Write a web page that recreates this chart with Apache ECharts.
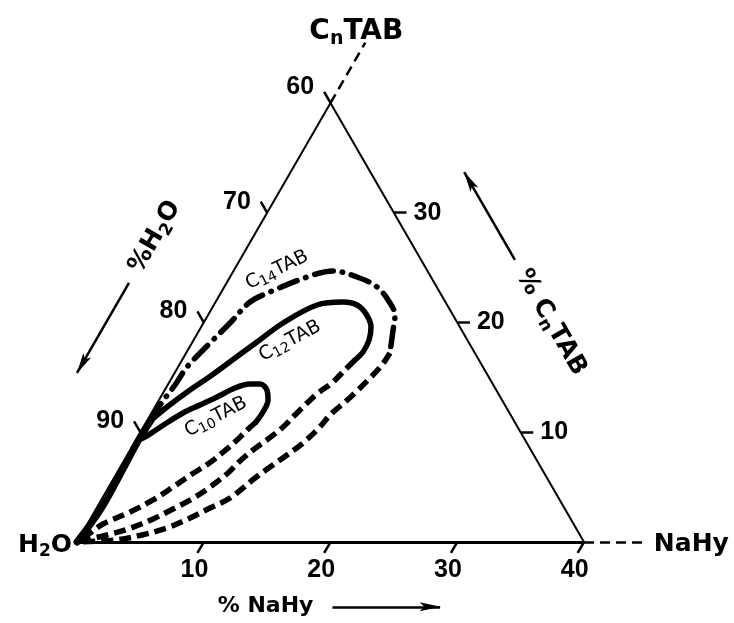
<!DOCTYPE html>
<html>
<head>
<meta charset="utf-8">
<title>CnTAB / NaHy / H2O phase diagram</title>
<script src="https://cdn.jsdelivr.net/npm/echarts@6/dist/echarts.min.js"></script>
<style>
  html, body { margin: 0; padding: 0; background: #fff; }
  #chart { width: 734px; height: 623px; }
</style>
</head>
<body>
<div id="chart"></div>
<script>
// Compositions are [NaHy %, CnTAB %]; H2O is the remainder to 100 %.

// Boundary shared by all three surfactants close to the water corner
const trunk = [[0, 0], [0.38, 2.92], [0.32, 6.29], [0.22, 9.29], [0.30, 11.11]];

// C10TAB region
const c10Solid = [[0.22, 9.29], [0.69, 9.66], [1.57, 10.75], [2.49, 11.75], [3.46, 12.48], [4.44, 13.21],
  [5.45, 14.03], [6.45, 14.39], [7.25, 14.39], [8.06, 13.85], [8.60, 12.94], [8.75, 11.84], [8.66, 10.93]];
const c10Dashed = [[8.66, 10.93], [8.24, 10.02], [7.98, 9.29], [7.39, 8.11], [6.78, 7.11], [5.98, 6.19],
  [5.07, 5.01], [4.08, 3.83], [2.82, 2.73], [1.23, 1.64], [0.62, 0.82], [0, 0]];

// C12TAB region
const c12Solid = [[0.30, 11.11], [0.95, 12.30], [1.99, 13.85], [3.05, 15.21], [4.09, 16.76], [5.09, 18.22],
  [6.28, 19.95], [8.14, 21.59], [10.06, 21.86], [11.30, 21.59], [12.42, 20.77], [13.40, 19.59],
  [13.84, 18.40], [13.91, 17.31], [13.64, 16.58]];
const c12Dashed = [[13.64, 16.58], [13.24, 15.49], [12.87, 14.49], [12.23, 13.57], [11.82, 12.66],
  [11.45, 11.66], [10.98, 10.39], [10.38, 9.38], [9.70, 8.38], [9.17, 7.38], [8.77, 6.29], [7.99, 5.01],
  [7.11, 3.92], [6.07, 3.01], [4.95, 2.10], [3.43, 1.18], [2.05, 0.64], [0.89, 0.27], [0, 0]];

// C14TAB region
const c14DashDot = [[0.30, 11.11], [0.31, 12.48], [0.58, 14.30], [0.71, 15.94], [1.43, 18.13], [2.10, 19.95],
  [2.72, 21.86], [3.84, 22.78], [6.27, 24.23], [7.85, 24.69], [10.02, 24.14], [12.06, 23.23],
  [13.81, 21.77], [14.75, 20.68], [15.28, 19.31], [16.08, 17.22]];
const c14Dashed = [[16.08, 17.22], [16.00, 16.12], [15.65, 14.94], [15.24, 13.85], [14.77, 12.75],
  [14.25, 11.75], [13.83, 10.20], [13.32, 9.02], [12.61, 7.93], [11.81, 6.83], [11.13, 5.83],
  [10.07, 4.01], [8.94, 3.10], [7.71, 2.10], [6.46, 1.28], [4.81, 0.64], [2.91, 0.18], [0, 0]];

// Tick values on the three sides
const naHyTicks = [10, 20, 30, 40];
const h2oTicks = [60, 70, 80, 90];
const cnTabTicks = [10, 20, 30];

// Region labels: name, subscript, anchor composition, text angle
const regionNames = ['C10TAB', 'C12TAB', 'C14TAB'];
const regionSubs = ['10', '12', '14'];
const regionAnchors = [[5.27, 11.39], [7.65, 18.31], [3.39, 24.78]];
const regionAngles = [27, 28, 26];

// Axis-title arrows [from, to] in composition space
const h2oArrow = [[-7.7, 23.6], [-7.7, 15.4]];
const cnTabArrow = [[21.7, 25.7], [13.7, 33.7]];
const naHyArrow = [[23.1, -5.9], [31.6, -5.9]];

// ---- layout ----
const W = 734, H = 623;
const X0 = 77, Y0 = 542;          // pixel position of the pure-water corner
const corner = 40;                // sides run from 0 to 40 %
const PX = 507 / corner;          // pixels per composition unit
const tickLen = 1.0;
const SQ = Math.sqrt(3) / 2;
const tern = p => [p[0] + p[1] / 2, p[1] * SQ];

const INK = '#000';
const SANS = 'DejaVu Sans';
const bold = size => ({ fontFamily: SANS, fontWeight: 'bold', fontSize: size, color: INK });
const sub = (size, drop, weight) => ({ fontFamily: SANS, fontWeight: weight || 'bold', fontSize: size, color: INK, padding: [drop, 0, 0, 0] });
const digits = { fontFamily: 'Liberation Sans', fontWeight: 'bold', fontSize: 25, color: INK };

function segs(list, width, type) {
  return {
    type: 'lines', coordinateSystem: 'cartesian2d', silent: true, polyline: false, z: 2,
    symbol: 'none',
    lineStyle: { color: INK, width: width, type: type || 'solid', opacity: 1, curveness: 0, cap: 'butt' },
    data: list.map(s => ({ coords: s.map(tern) }))
  };
}

function curve(points, width, type, cap) {
  return {
    type: 'line', data: points.map(tern), smooth: 0.35, symbol: 'none', silent: true, clip: false, z: 3,
    lineStyle: { color: INK, width: width, type: type, cap: cap || 'butt', join: 'round' }
  };
}

function texts(items) {
  return {
    type: 'scatter', symbolSize: 0, silent: true, clip: false, z: 5,
    itemStyle: { opacity: 1, color: INK },
    data: items.map(it => ({
      value: tern(it.at),
      label: Object.assign({ show: true, color: INK, opacity: 1, textBorderWidth: 0 }, it.label)
    }))
  };
}

function arrowHead(seg) {
  const a = tern(seg[0]), b = tern(seg[1]);
  const dx = b[0] - a[0], dy = b[1] - a[1];
  const len = Math.hypot(dx, dy);
  const back = 10 / PX;
  const ang = Math.atan2(dy, dx) * 180 / Math.PI;
  return {
    value: [b[0] - dx / len * back, b[1] - dy / len * back],
    symbol: 'path://M5,0 L10,22 L5,17 L0,22 Z',
    symbolSize: [9, 21],
    symbolRotate: ang - 90,
    itemStyle: { color: INK, opacity: 1 }
  };
}

const series = [];

// triangle sides
series.push(segs([[[0, 0], [0, corner]], [[corner, 0], [0, corner]]], 2));
series.push(segs([[[0, 0], [corner, 0]]], 3));
// dashed continuation toward the pure CnTAB and NaHy corners
series.push(segs([[[0, corner], [0, corner + 5.5]], [[corner, 0], [corner + 4.8, 0]]], 2.5, [10, 6]));

// ticks
series.push(segs(naHyTicks.map(v => [[v, 0], [v, -tickLen]]), 2.5));
series.push(segs(h2oTicks.map(v => [[0, 100 - v], [-tickLen, 100 - v + tickLen]]), 2.5));
series.push(segs(cnTabTicks.map(v => [[corner - v, v], [corner - v + tickLen, v]]), 2.5));

// phase boundaries
series.push(curve(trunk, 7, 'solid', 'round'));
series.push(curve(c10Solid, 5.5, 'solid', 'round'));
series.push(curve(c10Dashed, 5.5, [12, 6]));
series.push(curve(c12Solid, 5.5, 'solid', 'round'));
series.push(curve(c12Dashed, 5.5, [12, 6]));
series.push(curve(c14DashDot, 5.5, [19, 9, 0.5, 9], 'round'));
series.push(curve(c14Dashed, 5.5, [12, 6]));

// arrows beside the axis titles
series.push(segs([h2oArrow, cnTabArrow, naHyArrow], 2.5));
series.push({
  type: 'scatter', silent: true, clip: false, z: 4,
  data: [h2oArrow, cnTabArrow, naHyArrow].map(arrowHead)
});

// tick labels
series.push(texts(naHyTicks.map(v => ({
  at: [v, -tickLen],
  label: Object.assign({ position: 'bottom', distance: 5, offset: [-3, 0], formatter: String(v) }, digits)
}))));
series.push(texts(h2oTicks.map(v => ({
  at: [-tickLen, 100 - v + tickLen],
  label: Object.assign({ position: 'left', distance: 10, offset: v === 60 ? [0, -5] : [0, 0], formatter: String(v) }, digits)
}))));
series.push(texts(cnTabTicks.map(v => ({
  at: [corner - v + tickLen, v],
  label: Object.assign({ position: 'right', distance: 7, formatter: String(v) }, digits)
}))));

// corner names
series.push(texts([
  { at: [0, 0], label: { position: 'left', distance: 5, offset: [0, 3],
      formatter: '{b|H}{s|2}{b|O}', rich: { b: bold(25), s: sub(17, 14) } } },
  { at: [corner + 4.8, 0], label: { position: 'right', distance: 9, offset: [0, 2],
      formatter: '{b|NaHy}', rich: { b: bold(25) } } },
  { at: [0, corner + 5.5], label: { position: 'top', distance: 2, offset: [-9, 8],
      formatter: '{b|C}{s|n}{b|TAB}', rich: { b: bold(28), s: sub(19, 14) } } }
]));

// axis titles
series.push(texts([
  { at: [-7.75, 27.8], label: { position: 'inside', rotate: 60,
      formatter: '{b|%H}{s|2}{b|O}', rich: { b: bold(25), s: sub(17, 14) } } },
  { at: [27.4, 20.0], label: { position: 'inside', rotate: -60,
      formatter: '{b|% C}{s|n}{b|TAB}', rich: { b: bold(25), s: sub(17, 14) } } },
  { at: [17.8, -5.85], label: { position: 'inside',
      formatter: '{b|% NaHy}', rich: { b: bold(22) } } }
]));

// region names
series.push(texts(regionNames.map((name, i) => ({
  at: regionAnchors[i],
  label: { position: 'inside', rotate: regionAngles[i],
    formatter: '{m|C}{s|' + regionSubs[i] + '}{m|' + name.slice(1 + regionSubs[i].length) + '}',
    rich: { m: { fontFamily: SANS, fontSize: 19, color: INK }, s: sub(14, 9, 'normal') } }
}))));

const chart = echarts.init(document.getElementById('chart'), null, { renderer: 'canvas' });
chart.setOption({
  backgroundColor: '#fff',
  animation: false,
  grid: { left: 0, right: 0, top: 0, bottom: 0 },
  xAxis: { type: 'value', min: -X0 / PX, max: (W - X0) / PX, show: false },
  yAxis: { type: 'value', min: -(H - Y0) / PX, max: Y0 / PX, show: false },
  series: series
});
</script>
</body>
</html>
